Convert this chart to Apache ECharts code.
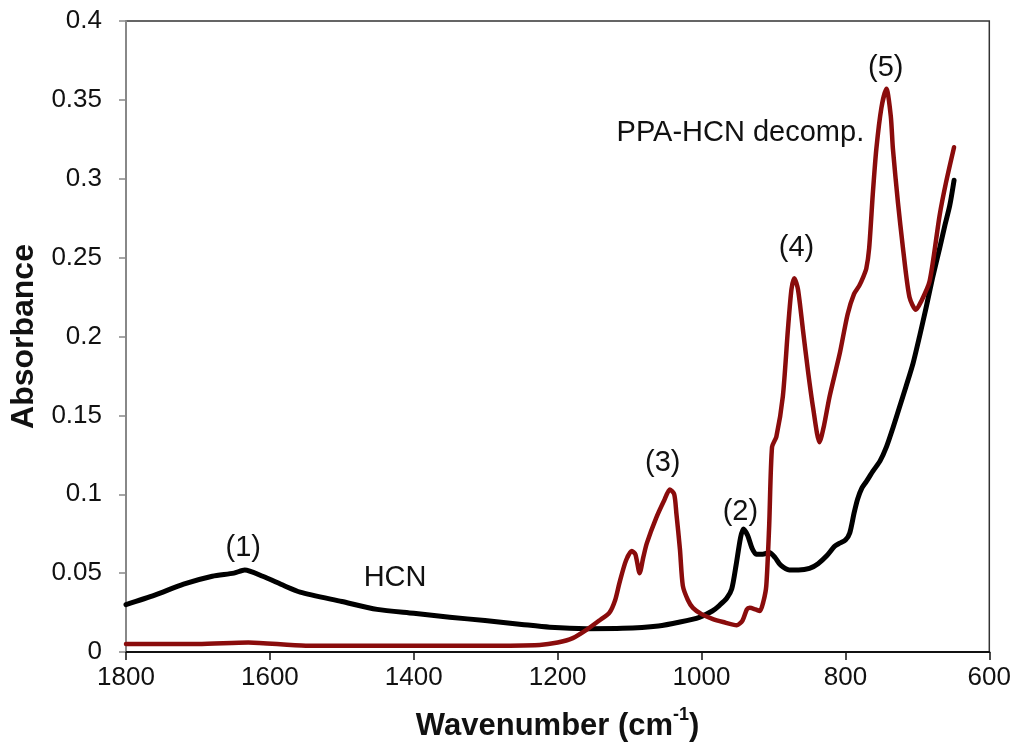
<!DOCTYPE html>
<html>
<head>
<meta charset="utf-8">
<script src="https://cdn.jsdelivr.net/npm/echarts@6/dist/echarts.min.js"></script>
<style>
html,body{margin:0;padding:0;background:#fff;}
#chart{width:1014px;height:747px;}
</style>
</head>
<body>
<div id="chart"></div>
<script>
// ---- data (wavenumber cm-1, absorbance) ----
const hcnWavenumber = [1800,1760,1720,1680,1650,1635,1610,1580,1558,1500,1451,1400,1350,1301,1250,1211,1160,1110,1060,1030,1003,985,975,965,958,952,946,942,936,930,924,915,906,898,890,878,865,850,838,826,815,808,800,794,788,783,777,771,762,752,743,734,725,716,706,697,688,679,669,662,655,649];
const hcnAbsorbance = [0.030,0.036,0.043,0.048,0.050,0.052,0.048,0.042,0.038,0.032,0.027,0.0245,0.022,0.020,0.0175,0.0157,0.0148,0.015,0.0165,0.019,0.022,0.026,0.0296,0.034,0.040,0.055,0.072,0.078,0.074,0.066,0.062,0.062,0.063,0.060,0.055,0.052,0.052,0.053,0.056,0.061,0.067,0.069,0.071,0.0755,0.088,0.097,0.104,0.108,0.1145,0.121,0.130,0.142,0.155,0.168,0.183,0.200,0.218,0.237,0.256,0.270,0.283,0.299];

const ppaWavenumber = [1800,1700,1630,1550,1400,1300,1225,1200,1179,1160,1142,1128,1120,1114,1105,1097,1092,1086,1081,1076,1063,1052,1044,1038,1035,1030,1026,1019,1012,1000,985,970,951,943,937,933,925,919,914,910,906,902,896,887,880,875,871,866,859,852,845,836,830,822,808,797,788,781,775,771,767,762,757,750,743,737,734,727,720,711,702,695,683,669,660,649];
const ppaAbsorbance = [0.005,0.005,0.006,0.004,0.004,0.004,0.0045,0.006,0.0088,0.014,0.020,0.025,0.033,0.044,0.058,0.064,0.062,0.050,0.060,0.069,0.085,0.096,0.103,0.100,0.088,0.065,0.042,0.033,0.028,0.024,0.021,0.019,0.017,0.020,0.027,0.028,0.027,0.026,0.032,0.042,0.080,0.130,0.1365,0.162,0.204,0.230,0.237,0.230,0.204,0.178,0.155,0.133,0.143,0.162,0.189,0.214,0.227,0.232,0.238,0.243,0.256,0.290,0.319,0.345,0.357,0.340,0.319,0.285,0.256,0.225,0.217,0.222,0.235,0.277,0.298,0.320];

const yTickLabels = ['0','0.05','0.1','0.15','0.2','0.25','0.3','0.35','0.4'];
const xTickLabels = ['600','800','1000','1200','1400','1600','1800'];

const annotationText = ['(1)','HCN','(3)','(2)','(4)','(5)','PPA-HCN decomp.'];
const annotationWavenumber = [1637,1426,1054,946,868,744,946];
const annotationAbsorbance = [0.066,0.047,0.120,0.089,0.256,0.370,0.329];

const FONT = '"Liberation Sans", Arial, sans-serif';

const chart = echarts.init(document.getElementById('chart'), null, {renderer:'canvas'});
const hcnData = hcnWavenumber.map((w,i)=>[w,hcnAbsorbance[i]]);
const ppaData = ppaWavenumber.map((w,i)=>[w,ppaAbsorbance[i]]);

chart.setOption({
  animation:false,
  backgroundColor:'#fff',
  grid:{left:126,right:24,top:21,bottom:90,show:true,borderColor:'#333',borderWidth:1.5,backgroundColor:'transparent'},
  xAxis:{
    type:'value',inverse:true,min:600,max:1800,interval:200,
    axisLine:{show:true,onZero:false,lineStyle:{color:'#111',width:2}},
    axisTick:{show:true,inside:false,length:8,lineStyle:{color:'#111',width:1.5}},
    splitLine:{show:false},
    axisLabel:{margin:13,color:'#111',fontSize:26,fontFamily:FONT,
      formatter:(v)=>{const i=Math.round((v-600)/200);return xTickLabels[i]!==undefined?xTickLabels[i]:'';}},
    name:'{b|Wavenumber (cm}{s|-1}{b|)}',nameLocation:'middle',nameGap:54,
    nameTextStyle:{rich:{
      b:{fontSize:31,fontWeight:'bold',fontFamily:FONT,color:'#111',lineHeight:36,verticalAlign:'bottom'},
      s:{fontSize:18,fontWeight:'bold',fontFamily:FONT,color:'#111',lineHeight:36,verticalAlign:'top',padding:[0,0,17,0]}
    }}
  },
  yAxis:{
    type:'value',min:0,max:0.4,interval:0.05,
    axisLine:{show:true,lineStyle:{color:'#888',width:2}},
    axisTick:{show:true,inside:false,length:7,lineStyle:{color:'#888',width:1.5}},
    splitLine:{show:false},
    axisLabel:{margin:24,color:'#111',fontSize:26,fontFamily:FONT,
      formatter:(v)=>{const i=Math.round(v/0.05);return yTickLabels[i]!==undefined?yTickLabels[i]:'';}},
    name:'Absorbance',nameLocation:'middle',nameGap:84,
    nameTextStyle:{fontSize:32,fontWeight:'bold',fontFamily:FONT,color:'#111'}
  },
  series:[
    {type:'line',name:'HCN',data:hcnData,showSymbol:false,smooth:0.25,
      lineStyle:{color:'#000',width:5,cap:'round',join:'round'},z:2},
    {type:'line',name:'PPA-HCN decomp.',data:ppaData,showSymbol:false,smooth:0.25,
      lineStyle:{color:'#8a0c0c',width:4.5,cap:'round',join:'round'},z:3}
  ]
});

const graphics = annotationText.map((t,i)=>{
  const p = chart.convertToPixel({gridIndex:0},[annotationWavenumber[i],annotationAbsorbance[i]]);
  return {type:'text',x:p[0],y:p[1],z:10,style:{text:t,fontSize:29,fontFamily:FONT,fill:'#111',textAlign:'center',textVerticalAlign:'middle'}};
});
chart.setOption({graphic:graphics});
</script>
</body>
</html>
